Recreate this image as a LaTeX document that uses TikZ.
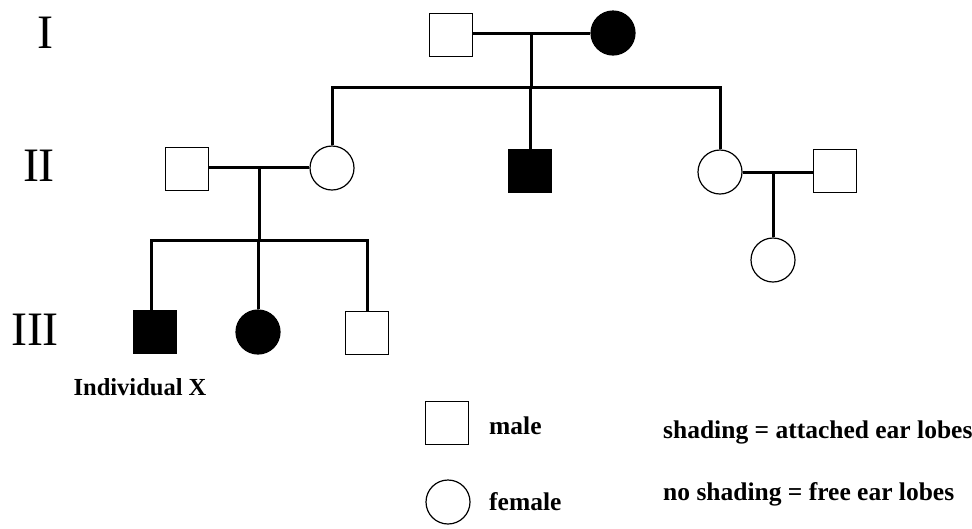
\documentclass[tikz,border=0pt]{standalone}
\usepackage{fontspec}
\setmainfont{Liberation Serif}
\begin{document}
\begin{tikzpicture}[x=1pt,y=-1pt,
  male/.style={draw,line width=1.5pt,rectangle,minimum size=43pt,inner sep=0pt,fill=white},
  female/.style={draw,line width=1.2pt,circle,minimum size=44pt,inner sep=0pt,fill=white},
  aff/.style={fill=black},
  link/.style={line width=3pt},
  gen/.style={font=\fontsize{48}{48}\selectfont},
  lbl/.style={font=\fontsize{24.5}{24.5}\selectfont\bfseries,inner sep=0pt},
  key/.style={font=\fontsize{25.5}{25.5}\selectfont\bfseries,inner sep=0pt,anchor=west}]
\useasboundingbox (0,0) rectangle (972,528);
% generation labels
\node[gen] (gI) at (45,33) {I};
\node[gen] (gII) at (39,166) {II};
\node[gen] (gIII) at (35,330) {III};
% generation I
\node[male] (m1) at (451,35) {};
\node[female,aff] (f1) at (613,33) {};
% generation II
\node[male] (m2a) at (187,169) {};
\node[female] (f2a) at (332,168) {};
\node[male,aff] (m2b) at (530,171) {};
\node[female] (f2b) at (720,172) {};
\node[male] (m2c) at (835,171) {};
% generation III
\node[male,aff] (m3a) at (155,332) {};
\node[female,aff] (f3b) at (258,332) {};
\node[male] (m3c) at (367,333) {};
\node[female] (f3d) at (773,260) {};
% junctions
\coordinate (j1) at (531,33);
\coordinate (s1) at (531,87);
\coordinate (j2) at (259,167);
\coordinate (s2) at (259,240);
\coordinate (j3) at (773,172);
% connectors generation I
\draw[link] (m1.east |- j1) -- (f1.west |- j1);
\draw[link] (j1) -- (s1);
\draw[link] (f2a.north) -- (f2a.north |- s1) -- (f2b.north |- s1) -- (f2b.north);
\draw[link] (m2b.north |- s1) -- (m2b.north);
% connectors generation II left family
\draw[link] (m2a.east |- j2) -- (f2a.west |- j2);
\draw[link] (j2) -- (s2);
\draw[link] (151,312) -- (151,240) -- (367,240) -- (m3c.north);
\draw[link] (f3b.north |- s2) -- (f3b.north);
% right family
\draw[link] (f2b.east |- j3) -- (m2c.west |- j3);
\draw[link] (j3) -- (f3d.north);
% redraw node on top
\node[male,aff] at (m3a) {};
% labels
\node[lbl] (ix) at (140,387) {Individual X};
\node[male] (lm) at (447,423) {};
\node[female] (lf) at (448,502) {};
\node[key] (tm) at (489,426) {male};
\node[key] (tf) at (489,502) {female};
\node[key] (ts) at (663,432) {shading = attached ear lobes};
\node[key] (tn) at (663,494) {no shading = free ear lobes};
\end{tikzpicture}
\end{document}
